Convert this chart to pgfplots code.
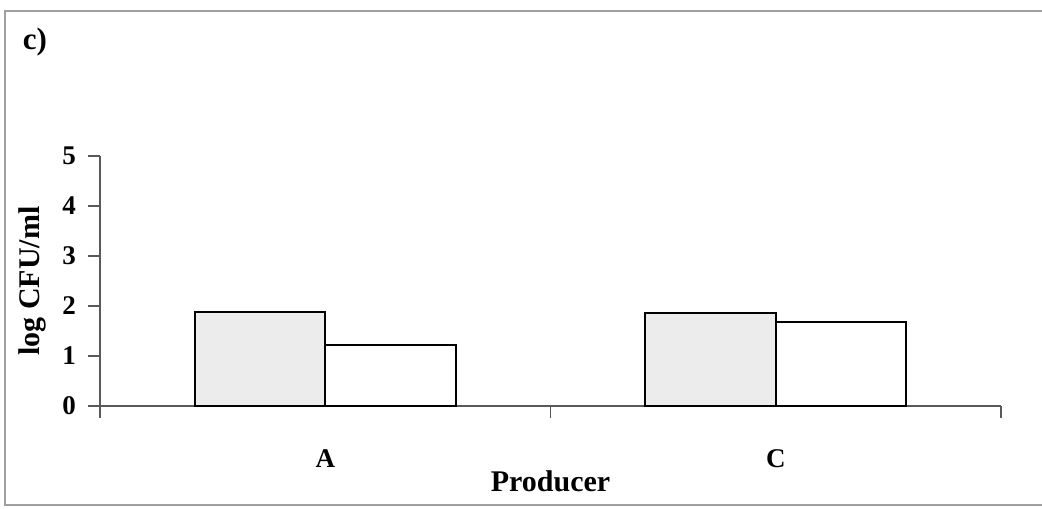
\documentclass[border=0pt]{standalone}
\usepackage{pgfplots}
\pgfplotsset{compat=1.18}
\usepackage{fontspec}
\setmainfont{Liberation Serif}
\begin{document}
\begin{tikzpicture}
\useasboundingbox (0pt,0pt) rectangle (521pt,254pt);
\draw[gray!75, line width=1pt] (521pt,248.5pt) -- (2.5pt,248.5pt) -- (2.5pt,1.5pt) -- (521pt,1.5pt);
\node[font=\fontsize{15.5}{18}\bfseries\selectfont] at (17.5pt,233pt) {c)};
\begin{axis}[
  at={(50pt,51pt)}, anchor=south west,
  width=450.5pt, height=125pt, scale only axis,
  xmin=0, xmax=2, ymin=0, ymax=5,
  axis x line*=bottom, axis y line*=left,
  axis line style={draw=black!65, line width=0.7pt, -},
  xtick={0,1,2}, xticklabels={,,},
  extra x ticks={0.5,1.5}, extra x tick labels={A,C},
  extra x tick style={major tick length=0pt, tick style={draw=none},
    xticklabel style={font=\fontsize{13.5}{16}\bfseries\selectfont, yshift=-18.5pt}},
  ytick={0,1,2,3,4,5},
  tick align=outside, major tick length=6pt,
  tick style={draw=black!65, line width=0.7pt},
  yticklabel style={font=\fontsize{13.5}{16}\bfseries\selectfont, xshift=-2.5pt},
  /pgf/number format/assume math mode=true,
  ylabel={log CFU/ml}, xlabel={Producer},
  label style={font=\fontsize{15}{18}\bfseries\selectfont},
  ylabel style={at={(axis description cs:-0.075,0.5)}, anchor=center},
  xlabel style={at={(axis description cs:0.5,-0.30)}, anchor=center},
  ybar, bar width=0.29,
  enlargelimits=false,
  clip=false,
]
\addplot[ybar, fill=gray!15, draw=black, line width=1pt, bar shift=-0.145] coordinates {(0.5,1.88) (1.5,1.86)};
\addplot[ybar, fill=white, draw=black, line width=1pt, bar shift=0.145] coordinates {(0.5,1.22) (1.5,1.68)};
\end{axis}
\end{tikzpicture}
\end{document}
